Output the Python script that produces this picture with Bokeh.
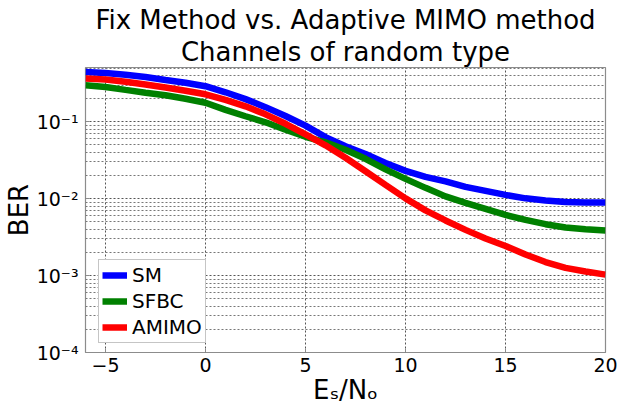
from bokeh.plotting import figure
from bokeh.models import Range1d, FixedTicker, CustomJSTickFormatter, Title
from bokeh.embed import file_html
from bokeh.resources import INLINE

# ---- data ----
esno_db = [-6, -5, -4, -3, -2, -1, 0, 1, 2, 3, 4, 5, 6, 7, 8, 9, 10,
           11, 12, 13, 14, 15, 16, 17, 18, 19, 20]
ber_sm = [0.445, 0.431, 0.408, 0.382, 0.349, 0.322, 0.290, 0.242, 0.197, 0.155,
          0.119, 0.0893, 0.0632, 0.048, 0.0382, 0.0292, 0.0230, 0.0192, 0.0168,
          0.01425, 0.01264, 0.0112, 0.0101, 0.0095, 0.00903, 0.00895, 0.00892]
ber_sfbc = [0.2985, 0.284, 0.260, 0.239, 0.221, 0.199, 0.1766, 0.143, 0.118, 0.0985,
            0.0787, 0.0638, 0.0541, 0.0432, 0.033, 0.0241, 0.0181, 0.01383, 0.01072,
            0.00881, 0.00736, 0.00615, 0.0053, 0.00466, 0.00423, 0.00401, 0.00386]
ber_amimo = [0.365, 0.354, 0.331, 0.306, 0.279, 0.2535, 0.228, 0.193, 0.159, 0.125,
             0.0942, 0.0687, 0.0494, 0.034, 0.0227, 0.0151, 0.0101, 0.00705, 0.00521,
             0.00393, 0.00304, 0.00243, 0.00188, 0.0015, 0.00126, 0.00113, 0.00103]
series_names = ["SM", "SFBC", "AMIMO"]
series_colors = ["#0000ff", "#008000", "#ff0000"]
x_ticks = [-5, 0, 5, 10, 15, 20]
y_ticks = [1e-4, 1e-3, 1e-2, 1e-1]
title_lines = ["Fix Method vs. Adaptive MIMO method", "Channels of random type"]

FONT = "DejaVu Sans"

p = figure(width=618, height=410, output_backend="svg", toolbar_location=None,
           y_axis_type="log",
           x_range=Range1d(-6, 20), y_range=Range1d(1e-4, 0.508),
           min_border_left=83, min_border_right=13,
           min_border_top=67, min_border_bottom=58)

# two-line centred title: p.title is the outer line, the added Title sits next to the frame
p.title.text = title_lines[0]
p.title.align = "center"
p.title.text_font = FONT
p.title.text_font_size = "26px"
p.title.text_font_style = "normal"
p.title.text_color = "#000000"
p.title.standoff = 0
p.add_layout(Title(text=title_lines[1], align="center", text_font=FONT,
                   text_font_size="26px", text_font_style="normal",
                   text_color="#000000", standoff=1), "above")

for ys, name, col in zip([ber_sm, ber_sfbc, ber_amimo], series_names, series_colors):
    p.line(esno_db, ys, line_color=col, line_width=6.5, legend_label=name)

# frame
p.outline_line_color = "#8c8c8c"
p.outline_line_width = 1.2
p.background_fill_color = "white"
p.border_fill_color = "white"

# minor tick positions for log grid
minor = []
for e in range(-4, 0):
    for k in range(2, 10):
        v = k * 10.0 ** e
        if v < 0.508:
            minor.append(v)

p.xaxis.ticker = FixedTicker(ticks=x_ticks)
p.yaxis.ticker = FixedTicker(ticks=y_ticks, minor_ticks=minor)

p.yaxis.formatter = CustomJSTickFormatter(code="""
const e = Math.round(Math.log10(tick));
const sup = {'-':'\u207b','0':'\u2070','1':'\u00b9','2':'\u00b2','3':'\u00b3',
             '4':'\u2074','5':'\u2075','6':'\u2076','7':'\u2077','8':'\u2078','9':'\u2079'};
return '10' + String(e).split('').map(c => sup[c]).join('');
""")

for ax in (p.xaxis, p.yaxis):
    ax.axis_line_color = None
    ax.major_tick_in = 4
    ax.major_tick_out = 0
    ax.major_tick_line_color = "#8c8c8c"
    ax.minor_tick_line_color = None
    ax.major_label_text_font = FONT
    ax.major_label_text_font_size = "19px"
    ax.major_label_text_color = "#000000"
    ax.axis_label_text_font = FONT
    ax.axis_label_text_font_style = "normal"
    ax.axis_label_text_color = "#000000"

p.xaxis.axis_label = "E\u209b/N\u2092"
p.xaxis.axis_label_text_font_size = "26px"
p.xaxis.major_label_standoff = 5
p.xaxis.axis_label_standoff = 0

p.yaxis.axis_label = "BER"
p.yaxis.axis_label_text_font_size = "26px"
p.yaxis.major_label_standoff = 3
p.yaxis.axis_label_standoff = 0

for g in (p.xgrid, p.ygrid):
    g.grid_line_color = "#555555"
    g.grid_line_dash = "2 2"
    g.grid_line_width = 1
p.ygrid.minor_grid_line_color = "#777777"
p.ygrid.minor_grid_line_dash = "2 2"
p.ygrid.minor_grid_line_width = 1

lg = p.legend[0]
lg.location = (13, 9)
lg.label_text_font = FONT
lg.label_text_font_size = "20px"
lg.label_text_color = "#000000"
lg.glyph_width = 25
lg.glyph_height = 20
lg.label_height = 20
lg.label_standoff = 5
lg.spacing = 2
lg.padding = 3
lg.margin = 0
lg.border_line_color = "#8c8c8c"
lg.border_line_width = 1.5
lg.background_fill_alpha = 1.0

open("out.html", "w").write(file_html(p, INLINE))
